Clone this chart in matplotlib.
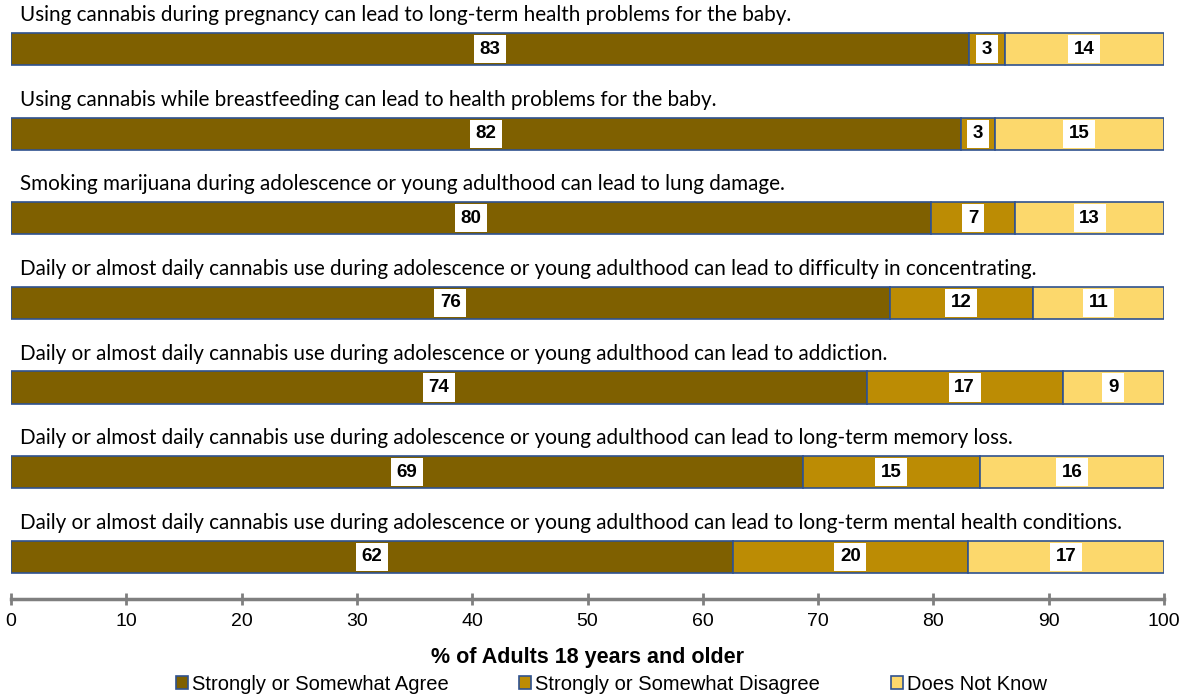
import matplotlib
matplotlib.use("Agg")
import matplotlib.pyplot as plt
from matplotlib.patches import Patch

statements = [
    "Using cannabis during pregnancy can lead to long-term health problems for the baby.",
    "Using cannabis while breastfeeding can lead to health problems for the baby.",
    "Smoking marijuana during adolescence or young adulthood can lead to lung damage.",
    "Daily or almost daily cannabis use during adolescence or young adulthood can lead to difficulty in concentrating.",
    "Daily or almost daily cannabis use during adolescence or young adulthood can lead to addiction.",
    "Daily or almost daily cannabis use during adolescence or young adulthood can lead to long-term memory loss.",
    "Daily or almost daily cannabis use during adolescence or young adulthood can lead to long-term mental health conditions.",
]
# segment lengths as drawn (unrounded)
agree = [83.1, 82.4, 79.8, 76.2, 74.2, 68.7, 62.6]
disagree = [3.1, 2.9, 7.3, 12.4, 17.0, 15.3, 20.4]
dont_know = [13.8, 14.7, 12.9, 11.4, 8.8, 16.0, 17.0]
# printed labels
agree_labels = [83, 82, 80, 76, 74, 69, 62]
disagree_labels = [3, 3, 7, 12, 17, 15, 20]
dont_know_labels = [14, 15, 13, 11, 9, 16, 17]
series_names = ["Strongly or Somewhat Agree", "Strongly or Somewhat Disagree", "Does Not Know"]
xticks = [0, 10, 20, 30, 40, 50, 60, 70, 80, 90, 100]
xlabel = "% of Adults 18 years and older"

colors = ["#7F6000", "#BC8C04", "#FCD86C"]
edge = "#2F528F"

fig = plt.figure(figsize=(11.86, 6.94), dpi=100)
ax = fig.add_axes([11 / 1186, 1 - 599 / 694, 1153 / 1186, 599 / 694])

ypos = list(range(len(statements)))
series = [agree, disagree, dont_know]
labels = [agree_labels, disagree_labels, dont_know_labels]
lefts = [0] * len(statements)
h = 0.38
for vals, labs, col in zip(series, labels, colors):
    ax.barh(ypos, vals, left=lefts, height=h, color=col, edgecolor=edge, linewidth=1.2)
    for y, l, v, lab in zip(ypos, lefts, vals, labs):
        ax.text(l + v / 2, y, str(lab), ha="center", va="center", fontsize=13.5,
                fontweight="bold", family="Liberation Sans", color="black",
                bbox=dict(boxstyle="square,pad=0.3", fc="white", ec="none"))
    lefts = [a + b for a, b in zip(lefts, vals)]

for y, s in zip(ypos, statements):
    ax.text(0.8, y - 0.40, s, ha="left", va="center", fontsize=14.9, family="Lato", color="black")

ax.set_xlim(0, 100)
ax.set_ylim(6.5, -0.58)
ax.set_xticks(xticks)
ax.set_xticklabels([str(t) for t in xticks], family="Liberation Sans", fontsize=14)
ax.set_yticks([])
for s in ["top", "right", "left"]:
    ax.spines[s].set_visible(False)
ax.spines["bottom"].set_color("#7F7F7F")
ax.spines["bottom"].set_linewidth(2.5)
ax.tick_params(axis="x", direction="inout", length=8, width=2, color="#7F7F7F", pad=6)
ax.set_xlabel(xlabel, fontsize=15.5, fontweight="bold", family="Liberation Sans", labelpad=12)

handles = [Patch(facecolor=c, edgecolor=edge, linewidth=1.2) for c in colors]
fig.legend(handles, series_names, loc="center", bbox_to_anchor=(611.5 / 1186, 1 - 684 / 694), ncol=3,
           frameon=False, prop=dict(family="Liberation Sans", size=14.5), handlelength=0.6,
           handleheight=0.6, handletextpad=0.2, columnspacing=3.5, borderpad=0, borderaxespad=0)

fig.savefig("out.png", dpi=100)
